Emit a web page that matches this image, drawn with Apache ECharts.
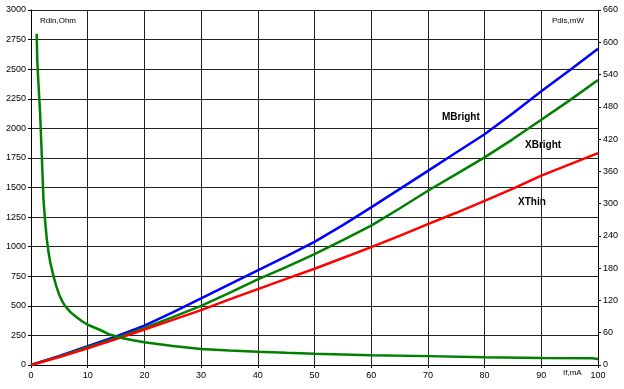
<!DOCTYPE html>
<html>
<head>
<meta charset="utf-8">
<script src="https://cdn.jsdelivr.net/npm/echarts@6/dist/echarts.min.js"></script>
<style>
html,body{margin:0;padding:0;background:#fff;}
#c{width:624px;height:389px;}
</style>
</head>
<body>
<div id="c"></div>
<script>
// Current If (mA) for the power curves
const currentMA = [0, 5, 10, 15, 20, 25, 30, 35, 40, 45, 50, 55, 60, 65, 70, 75, 80, 85, 90, 95, 100];
// Dissipated power (mW), right axis
const mBrightPower = [0, 17, 35, 53, 73, 98, 124, 150, 176, 202, 229, 260, 293, 327, 361, 395, 429, 468, 509, 548, 588];
const xBrightPower = [0, 16, 33, 50, 69, 89, 110, 134, 159, 182, 206, 232, 259, 291, 324, 355, 386, 420, 456, 492, 530];
const xThinPower   = [0, 15, 31, 48, 66, 84, 102, 122, 141, 160, 179, 199, 219, 240, 262, 283, 305, 328, 352, 373, 394];
// Dynamic resistance (Ohm), left axis
const rdinCurrent = [1, 1.1, 1.3, 1.6, 1.9, 2.2, 2.5, 2.8, 3.1, 3.4, 4, 4.5, 5, 5.5, 6, 7, 8, 9, 10, 12, 14, 16, 18, 20, 25, 30, 35, 40, 45, 50, 60, 70, 80, 90, 99, 100];
const rdinOhm     = [2800, 2580, 2390, 2135, 1770, 1400, 1210, 1060, 950, 865, 745, 660, 590, 540, 500, 445, 405, 370, 340, 300, 255, 228, 210, 193, 160, 135, 122, 112, 103, 95, 83, 75, 66, 60, 57, 50];
// Axis settings
const xTicks = {min: 0, max: 100, interval: 10};
const leftTicks = {min: 0, max: 3000, interval: 250};
const rightTicks = {min: 0, max: 660, interval: 60};
const seriesNames = ['MBright', 'XBright', 'XThin'];

const zip = (xs, ys) => xs.map((x, i) => [x, ys[i]]);
const font = 'Arial, Liberation Sans, sans-serif';
const axisLabel = {color: '#000', fontSize: 9, fontFamily: font, formatter: v => String(v)};

const chart = echarts.init(document.getElementById('c'), null, {renderer: 'canvas'});
chart.setOption({
  animation: false,
  backgroundColor: '#fff',
  grid: {left: 31, right: 26, top: 10, bottom: 24},
  xAxis: {
    type: 'value', min: xTicks.min, max: xTicks.max, interval: xTicks.interval,
    axisLine: {show: true, onZero: false, lineStyle: {color: '#000', width: 1}},
    axisTick: {show: true, length: 3, lineStyle: {color: '#000'}},
    axisLabel: Object.assign({margin: 6}, axisLabel),
    splitLine: {show: true, lineStyle: {color: '#222', width: 1}}
  },
  yAxis: [{
    type: 'value', min: leftTicks.min, max: leftTicks.max, interval: leftTicks.interval,
    axisLine: {show: true, lineStyle: {color: '#000', width: 1}},
    axisTick: {show: true, length: 3, lineStyle: {color: '#000'}},
    axisLabel: Object.assign({margin: 5}, axisLabel),
    splitLine: {show: true, lineStyle: {color: '#222', width: 1}}
  }, {
    type: 'value', position: 'right', min: rightTicks.min, max: rightTicks.max, interval: rightTicks.interval,
    axisLine: {show: true, lineStyle: {color: '#000', width: 1}},
    axisTick: {show: true, length: 3, lineStyle: {color: '#000'}},
    axisLabel: Object.assign({margin: 5}, axisLabel),
    splitLine: {show: false}
  }],
  series: [
    {name: seriesNames[0], type: 'line', yAxisIndex: 1, data: zip(currentMA, mBrightPower), showSymbol: false,
     lineStyle: {color: '#0000ff', width: 2.5}},
    {name: seriesNames[1], type: 'line', yAxisIndex: 1, data: zip(currentMA, xBrightPower), showSymbol: false,
     lineStyle: {color: '#008000', width: 2.5}},
    {name: seriesNames[2], type: 'line', yAxisIndex: 1, data: zip(currentMA, xThinPower), showSymbol: false,
     lineStyle: {color: '#ff0000', width: 2.5}},
    {name: 'Rdin', type: 'line', yAxisIndex: 0, data: zip(rdinCurrent, rdinOhm), showSymbol: false,
     lineStyle: {color: '#008000', width: 2.5}}
  ],
  graphic: [
    {type: 'text', left: 40, top: 17, style: {text: 'Rdin,Ohm', font: '8px ' + font, fill: '#000'}},
    {type: 'text', left: 552, top: 17, style: {text: 'Pdis,mW', font: '8px ' + font, fill: '#000'}},
    {type: 'text', left: 563, top: 369, style: {text: 'If,mA', font: '8px ' + font, fill: '#000'}},
    {type: 'text', left: 442, top: 112, style: {text: seriesNames[0], font: 'bold 10px ' + font, fill: '#000'}},
    {type: 'text', left: 525, top: 140, style: {text: seriesNames[1], font: 'bold 10px ' + font, fill: '#000'}},
    {type: 'text', left: 518, top: 197, style: {text: seriesNames[2], font: 'bold 10px ' + font, fill: '#000'}}
  ]
});
</script>
</body>
</html>
